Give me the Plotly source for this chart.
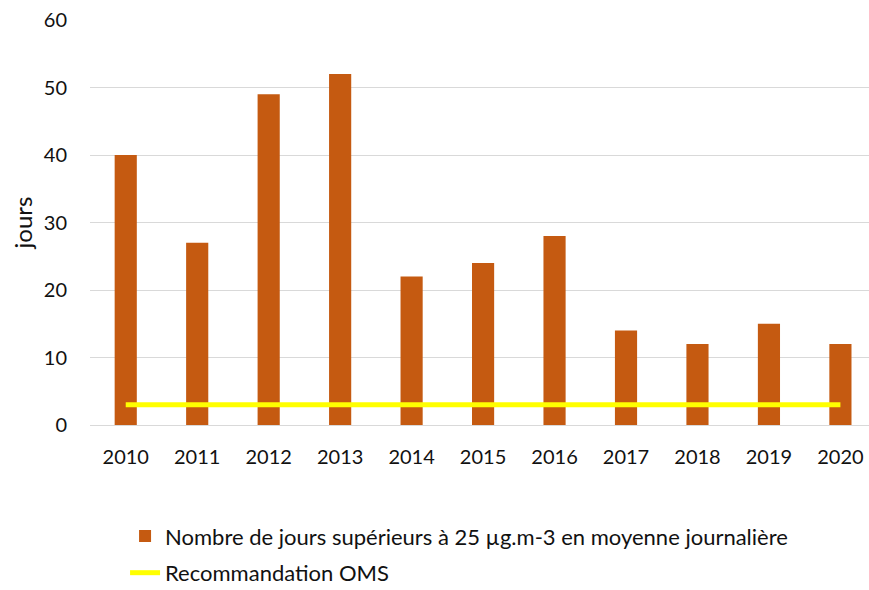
import plotly.graph_objects as go

years = ["2010", "2011", "2012", "2013", "2014", "2015", "2016", "2017", "2018", "2019", "2020"]
jours = [40, 27, 49, 52, 22, 24, 28, 14, 12, 15, 12]
oms = [3] * len(years)
y_ticks = [0, 10, 20, 30, 40, 50, 60]

bar_name = "Nombre de jours supérieurs à 25 µg.m-3 en moyenne journalière"
line_name = "Recommandation OMS"

FONT = "Lato, Open Sans, Liberation Sans, sans-serif"

fig = go.Figure()
fig.add_trace(go.Bar(x=years, y=jours, name=bar_name, marker=dict(color="#C55A11", line=dict(width=0)),
                     legend="legend"))
fig.add_trace(go.Scatter(x=years, y=oms, mode="lines", name=line_name,
                         line=dict(color="#FFFF00", width=5), legend="legend2"))

fig.update_layout(
    width=869, height=590,
    margin=dict(l=90, r=0, t=20, b=165, autoexpand=False),
    plot_bgcolor="white", paper_bgcolor="white",
    font=dict(family=FONT, size=20, color="#222222"),
    bargap=0.69,
    showlegend=True,
    legend=dict(x=0.045, y=-0.223, xanchor="left", yanchor="top", orientation="v",
                font=dict(size=22, color="#111111"), bgcolor="rgba(0,0,0,0)"),
    legend2=dict(x=0.045, y=-0.417, xanchor="left", yanchor="bottom", orientation="v",
                 font=dict(size=22, color="#111111"), bgcolor="rgba(0,0,0,0)"),
    xaxis=dict(type="category", range=[-0.5, 10.4], showgrid=False, showline=True,
               linecolor="#d9d9d9", linewidth=1, ticks="", ticklabelstandoff=14,
               tickfont=dict(size=20, color="#111111")),
    yaxis=dict(range=[0, 60], tickvals=y_ticks, showgrid=True, gridcolor="#d9d9d9", gridwidth=1,
               zeroline=False, showline=False, ticks="", ticklabelstandoff=22,
               tickfont=dict(size=20, color="#111111"),
               title=dict(text="jours", font=dict(size=24, color="#111111"), standoff=4)),
)

fig.write_html("out.html", config={"displayModeBar": False},
               post_script="document.body.style.margin='0';document.body.style.overflow='hidden';")
